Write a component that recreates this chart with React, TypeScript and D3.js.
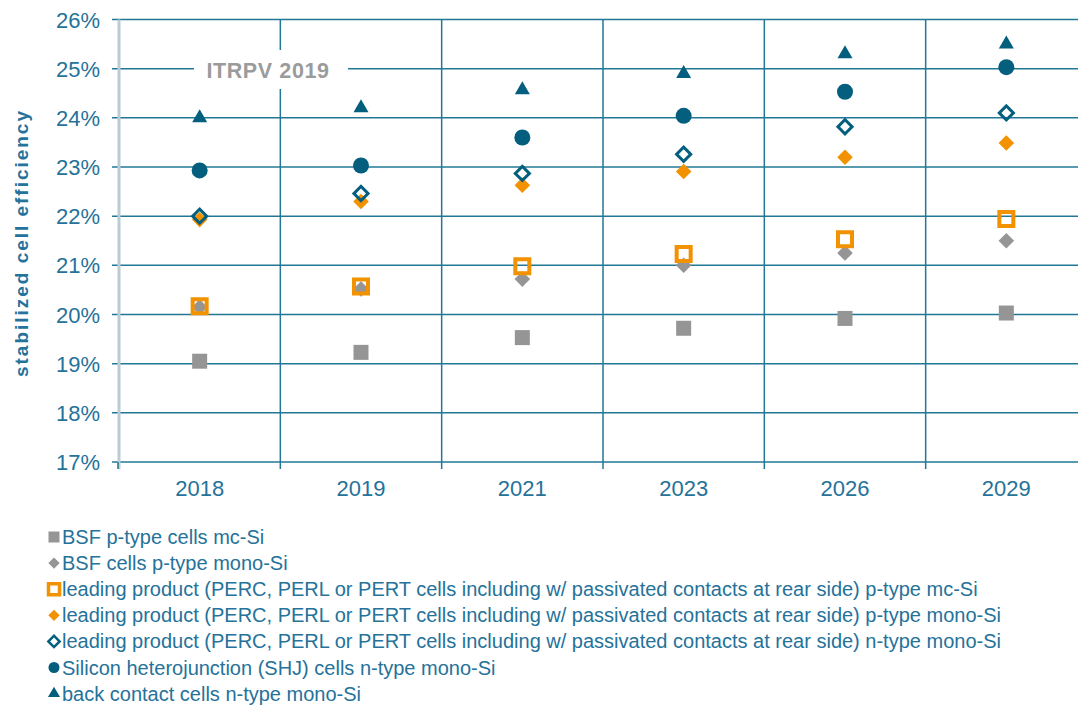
import * as d3 from "d3";

// years on the x axis
const years = ["2018", "2019", "2021", "2023", "2026", "2029"];
const yTicks = [17, 18, 19, 20, 21, 22, 23, 24, 25, 26];

// stabilized cell efficiency, %
const bsfMc = [19.05, 19.23, 19.53, 19.72, 19.92, 20.03];
const bsfMono = [20.15, 20.52, 20.72, 21.0, 21.25, 21.5];
const percMc = [20.17, 20.57, 20.98, 21.23, 21.53, 21.94];
const percMono = [21.93, 22.3, 22.63, 22.91, 23.2, 23.49];
const nMono = [22.0, 22.46, 22.87, 23.26, 23.82, 24.1];
const shj = [22.93, 23.03, 23.6, 24.04, 24.53, 25.03];
const backContact = [24.0, 24.2, 24.57, 24.9, 25.3, 25.5];

const seriesNames = [
  "BSF p-type cells mc-Si",
  "BSF cells p-type mono-Si",
  "leading product (PERC, PERL or PERT cells including w/ passivated contacts at rear side) p-type mc-Si",
  "leading product (PERC, PERL or PERT cells including w/ passivated contacts at rear side) p-type mono-Si",
  "leading product (PERC, PERL or PERT cells including w/ passivated contacts at rear side) n-type mono-Si",
  "Silicon heterojunction (SHJ) cells n-type mono-Si",
  "back contact cells n-type mono-Si",
];

const TEAL = "#035f7d";
const GRID = "#207895";
const GREY = "#959595";
const ORANGE = "#f39200";
const TEXT = "#25729a";

type Marker = { kind: "square" | "diamond" | "circle" | "triangle"; fill: string; stroke?: string; sw?: number; size: number };

const series: { name: string; values: number[]; m: Marker; lm: Marker }[] = [
  { name: seriesNames[0], values: bsfMc, m: { kind: "square", fill: GREY, size: 15 }, lm: { kind: "square", fill: GREY, size: 11 } },
  { name: seriesNames[1], values: bsfMono, m: { kind: "diamond", fill: GREY, size: 11 }, lm: { kind: "diamond", fill: GREY, size: 8 } },
  { name: seriesNames[2], values: percMc, m: { kind: "square", fill: "none", stroke: ORANGE, sw: 4, size: 14 }, lm: { kind: "square", fill: "none", stroke: ORANGE, sw: 3.5, size: 11 } },
  { name: seriesNames[3], values: percMono, m: { kind: "diamond", fill: ORANGE, size: 11 }, lm: { kind: "diamond", fill: ORANGE, size: 8 } },
  { name: seriesNames[4], values: nMono, m: { kind: "diamond", fill: "none", stroke: TEAL, sw: 3, size: 10 }, lm: { kind: "diamond", fill: "none", stroke: TEAL, sw: 2.5, size: 8 } },
  { name: seriesNames[5], values: shj, m: { kind: "circle", fill: TEAL, size: 16 }, lm: { kind: "circle", fill: TEAL, size: 11 } },
  { name: seriesNames[6], values: backContact, m: { kind: "triangle", fill: TEAL, size: 15 }, lm: { kind: "triangle", fill: TEAL, size: 12 } },
];

const W = 1078;
const H = 706;

const x = d3.scaleBand<string>().domain(years).range([119, 1087]).padding(0);
const y = d3.scaleLinear().domain([17, 26]).range([462, 19.5]);

function symbolPath(m: Marker) {
  const s = m.size;
  if (m.kind === "circle") return d3.symbol(d3.symbolCircle, Math.PI * (s / 2) ** 2)()!;
  if (m.kind === "triangle") return d3.symbol(d3.symbolTriangle, (Math.sqrt(3) / 4) * s * s)()!;
  return d3.symbol(d3.symbolSquare, s * s)()!;
}

function MarkerShape({ m, cx, cy }: { m: Marker; cx: number; cy: number }) {
  const rot = m.kind === "diamond" ? " rotate(45)" : "";
  return (
    <path
      d={symbolPath(m)}
      transform={`translate(${cx},${cy})${rot}`}
      fill={m.fill}
      stroke={m.stroke || "none"}
      strokeWidth={m.sw || 0}
    />
  );
}

export default function App() {
  const font = "'Liberation Sans', Arial, sans-serif";
  const bounds = x.range();
  const legendY0 = 537;
  const legendStep = 26.1;
  return (
    <svg
      width={W}
      height={H}
      style={{ position: "absolute", left: 0, top: 0, background: "#fff" }}
      fontFamily={font}
    >
      {/* horizontal gridlines */}
      {yTicks.map((t) => (
        <g key={t}>
          <line x1={112} x2={bounds[1]} y1={y(t)} y2={y(t)} stroke={GRID} strokeWidth={1.5} />
          <text x={100} y={y(t) + 8} textAnchor="end" fontSize={22} fill={TEXT}>
            {t}%
          </text>
        </g>
      ))}
      {/* vertical gridlines at band edges */}
      {years.slice(1).map((yr) => (
        <line key={yr} x1={x(yr)!} x2={x(yr)!} y1={y(26)} y2={469} stroke={GRID} strokeWidth={1.5} />
      ))}
      <line x1={119} x2={119} y1={y(26)} y2={469} stroke="#b9cdd6" strokeWidth={3} />
      <line x1={118} x2={118} y1={y(17)} y2={469} stroke={GRID} strokeWidth={1.5} />

      {/* x labels */}
      {years.map((yr) => (
        <text key={yr} x={x(yr)! + x.bandwidth() / 2} y={496} textAnchor="middle" fontSize={22} fill={TEXT}>
          {yr}
        </text>
      ))}

      {/* ITRPV label */}
      <rect x={194} y={50} width={154} height={39} fill="#fff" />
      <text x={268} y={78} textAnchor="middle" fontSize={21.5} fontWeight="bold" fill="#9b9b9b" letterSpacing={0.6}>
        ITRPV 2019
      </text>

      {/* y axis title */}
      <text
        transform="translate(28,244) rotate(-90)"
        textAnchor="middle"
        fontSize={19}
        fontWeight="bold"
        fill={TEXT}
        textLength={266}
        lengthAdjust="spacing"
      >
        stabilized cell efficiency
      </text>

      {/* markers */}
      {series.map((s) => (
        <g key={s.name}>
          {s.values.map((v, i) => (
            <MarkerShape key={i} m={s.m} cx={x(years[i])! + x.bandwidth() / 2} cy={y(v)} />
          ))}
        </g>
      ))}

      {/* legend */}
      {series.map((s, i) => (
        <g key={s.name}>
          <MarkerShape m={s.lm} cx={54} cy={legendY0 + i * legendStep} />
          <text x={62} y={legendY0 + i * legendStep + 7} fontSize={20} fill={TEXT}>
            {s.name}
          </text>
        </g>
      ))}
    </svg>
  );
}
